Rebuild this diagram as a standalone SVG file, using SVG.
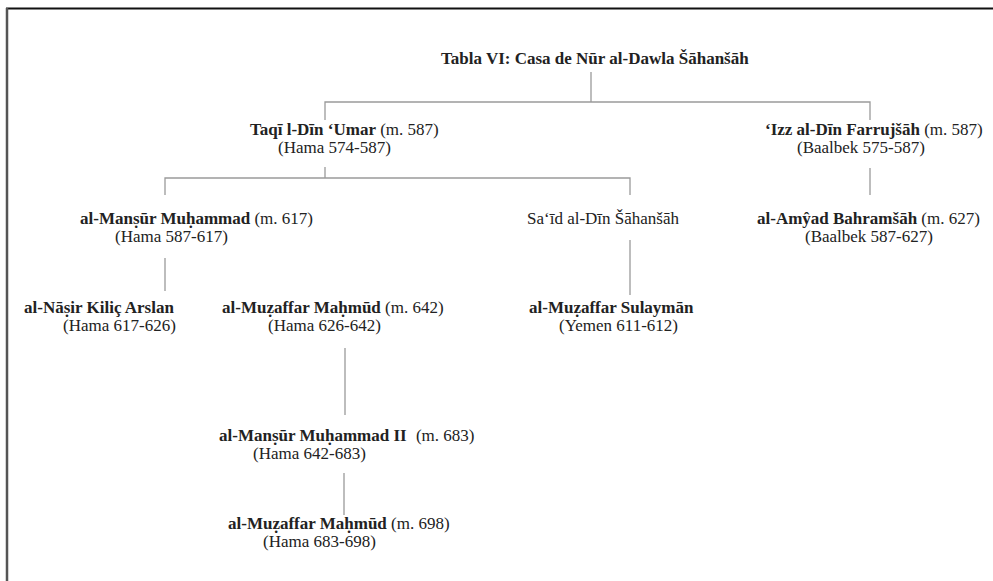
<svg xmlns="http://www.w3.org/2000/svg" width="993" height="581" viewBox="0 0 993 581">
<style>
text{font-family:"Liberation Serif","Times New Roman",serif;font-size:17px;fill:#222}
.b{font-weight:bold}
.ln{stroke:#9a9a9a;stroke-width:1.3;fill:none}
</style>
<rect x="0" y="0" width="993" height="581" fill="#fff"/>
<line x1="6" y1="8.5" x2="993" y2="8.5" stroke="#111" stroke-width="2"/>
<line x1="7" y1="8" x2="7" y2="581" stroke="#555" stroke-width="2.5"/>
<g id="connectors">
<path class="ln" d="M591 72V102M325 120V102H870V120"/>
<path class="ln" d="M325 167V178M165 195V178H630V195"/>
<path class="ln" d="M870 168V195"/>
<path class="ln" d="M165 258V291"/>
<path class="ln" d="M630 240V295"/>
<path class="ln" d="M345 348V415"/>
<path class="ln" d="M344 473V515"/>
</g>
<g id="title"><text x="441" y="64" class="b">Tabla VI: Casa de Nūr al-Dawla Šāhanšāh</text></g>
<g id="taqi"><text x="250" y="135"><tspan class="b">Taqī l-Dīn ‘Umar</tspan> (m. 587)</text><text x="278" y="153">(Hama 574-587)</text></g>
<g id="izz"><text x="765" y="135"><tspan class="b">‘Izz al-Dīn Farrujšāh</tspan> (m. 587)</text><text x="797" y="153">(Baalbek 575-587)</text></g>
<g id="mansur"><text x="80" y="224"><tspan class="b">al-Manṣūr Muḥammad</tspan> (m. 617)</text><text x="115" y="242">(Hama 587-617)</text></g>
<g id="said"><text x="527" y="224">Sa‘īd al-Dīn Šāhanšāh</text></g>
<g id="amyad"><text x="757" y="224"><tspan class="b">al-Amŷad Bahramšāh</tspan> (m. 627)</text><text x="805" y="242">(Baalbek 587-627)</text></g>
<g id="nasir"><text x="24" y="313" class="b">al-Nāṣir Kiliç Arslan</text><text x="63" y="331">(Hama 617-626)</text></g>
<g id="muzaffar1"><text x="222" y="313"><tspan class="b">al-Muẓaffar Maḥmūd</tspan> (m. 642)</text><text x="268" y="331">(Hama 626-642)</text></g>
<g id="sulayman"><text x="529" y="313" class="b">al-Muẓaffar Sulaymān</text><text x="559" y="331">(Yemen 611-612)</text></g>
<g id="mansur2"><text x="219" y="441"><tspan class="b">al-Manṣūr Muḥammad II</tspan><tspan dx="5"> (m. 683)</tspan></text><text x="253" y="459">(Hama 642-683)</text></g>
<g id="muzaffar2"><text x="228" y="529"><tspan class="b">al-Muẓaffar Maḥmūd</tspan> (m. 698)</text><text x="263" y="547">(Hama 683-698)</text></g>
</svg>
